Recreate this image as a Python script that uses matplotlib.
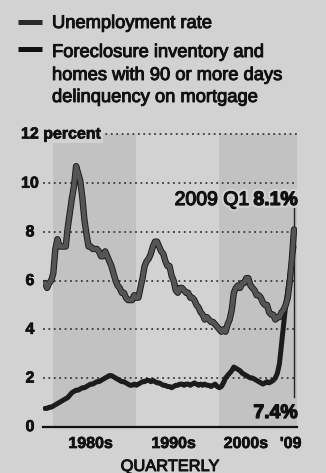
import matplotlib
matplotlib.use("Agg")
import matplotlib.pyplot as plt
import matplotlib.patheffects as pe
from matplotlib.lines import Line2D

# quarterly values, 1979 Q1 .. 2009 Q1
unemployment = [
    5.9, 5.7, 5.9, 6.0,   6.3, 7.3, 7.7, 7.4,   7.4, 7.4, 7.4, 8.2,
    8.8, 9.4, 9.9, 10.7,  10.4, 10.1, 9.4, 8.5,  7.9, 7.4, 7.4, 7.3,
    7.3, 7.3, 7.2, 7.0,   7.0, 7.2, 7.0, 6.8,   6.6, 6.3, 6.0, 5.8,
    5.7, 5.5, 5.5, 5.3,   5.2, 5.2, 5.2, 5.4,   5.3, 5.3, 5.7, 6.1,
    6.6, 6.8, 6.9, 7.1,   7.4, 7.6, 7.6, 7.4,   7.2, 7.1, 6.8, 6.6,
    6.6, 6.2, 6.0, 5.6,   5.5, 5.7, 5.7, 5.6,   5.5, 5.5, 5.3, 5.3,
    5.2, 5.0, 4.9, 4.7,   4.6, 4.4, 4.5, 4.4,   4.3, 4.3, 4.2, 4.1,
    4.0, 3.9, 4.0, 3.9,   4.2, 4.4, 4.8, 5.5,   5.7, 5.8, 5.7, 5.9,
    5.9, 6.1, 6.1, 5.8,   5.7, 5.6, 5.4, 5.4,   5.3, 5.1, 5.0, 5.0,
    4.7, 4.6, 4.6, 4.4,   4.5, 4.5, 4.7, 4.8,   5.0, 5.3, 6.0, 6.9,
    8.1,
]
foreclosure = [
    0.75, 0.75, 0.8, 0.8,   0.85, 0.9, 0.95, 1.0,   1.05, 1.1, 1.15, 1.2,
    1.3, 1.4, 1.45, 1.5,    1.5, 1.55, 1.6, 1.6,    1.65, 1.7, 1.75, 1.75,
    1.8, 1.85, 1.85, 1.9,   1.95, 2.0, 2.05, 2.1,   2.1, 2.05, 2.0, 1.95,
    1.9, 1.85, 1.85, 1.8,   1.75, 1.7, 1.7, 1.75,   1.7, 1.75, 1.8, 1.85,
    1.85, 1.9, 1.9, 1.85,   1.9, 1.85, 1.8, 1.8,    1.75, 1.7, 1.7, 1.65,
    1.65, 1.6, 1.65, 1.7,   1.7, 1.75, 1.75, 1.7,   1.75, 1.75, 1.7, 1.75,
    1.8, 1.75, 1.7, 1.75,   1.7, 1.75, 1.7, 1.7,    1.65, 1.7, 1.75, 1.65,
    1.6, 1.65, 1.8, 2.0,    2.1, 2.2, 2.3, 2.45,    2.4, 2.35, 2.3, 2.2,
    2.15, 2.1, 2.05, 2.0,   2.0, 1.95, 1.9, 1.85,   1.8, 1.75, 1.8, 1.85,
    1.8, 1.85, 1.9, 2.0,    2.2, 2.6, 3.4, 4.2,     5.0, 5.6, 6.2, 6.9,
    7.4,
]
quarters = [1979 + i / 4 for i in range(len(unemployment))]

y_ticks = [0, 2, 4, 6, 8, 10]
decade_labels = ["1980s", "1990s", "2000s", "'09"]
decade_label_x = [1984.5, 1994.5, 2003.2, 2008.6]
shaded = [(1980, 1990), (2000, 2009.36)]

BG = "#d2d2d2"
SHADE = "#c2c2c2"
INK = "#111111"
FONT = "Liberation Sans"
W, H = 326, 473

# heavier "printed" look for text, light halo for labels
ink = [pe.withStroke(linewidth=0.7, foreground=INK)]
ink_bold = [pe.withStroke(linewidth=0.5, foreground=INK)]

fig = plt.figure(figsize=(W / 100, H / 100), dpi=100, facecolor=BG)


def fx(px):
    return px / W


def fy(py):
    return 1 - py / H


ax = fig.add_axes([fx(43), fy(426.7), fx(297) - fx(43), fy(134.5) - fy(426.7)])
ax.set_facecolor(BG)
ax.set_xlim(1978.76, 2009.36)
ax.set_ylim(0, 12)
ax.axis("off")

for a, b in shaded:
    ax.axvspan(a, b, ymin=0, ymax=1, color=SHADE, lw=0, zorder=0)

# dotted gridlines
for v in [2, 4, 6, 8, 10]:
    ax.plot([1978.76, 2009.36], [v, v], ls=(0, (1, 2)), color="#3a3a3a",
            lw=1.3, zorder=1, clip_on=False)
ax.plot([1985.6, 2009.36], [12, 12], ls=(0, (1, 2)), color="#3a3a3a",
        lw=1.3, zorder=1, clip_on=False)
ax.plot([1978.76, 2009.36], [0, 0], color=INK, lw=1.6, zorder=2,
        clip_on=False)

# thin leader line at 2009 Q1
ax.plot([2009.0, 2009.0], [1.2, 9.0], color="#222222", lw=1.0, zorder=2)

ax.plot(quarters, foreclosure, color="#1c1c1c", lw=3.6, zorder=3,
        solid_capstyle="round", solid_joinstyle="round")
ax.plot(quarters, unemployment, color="#555555", lw=3.2, zorder=4,
        solid_capstyle="round", solid_joinstyle="round",
        path_effects=[pe.Stroke(linewidth=4.6, foreground="#1e1e1e"),
                      pe.Normal()])

# y tick labels
for v in y_ticks:
    ax.text(1978.76 - 13 / 8.3, v, str(v), ha="center", va="center",
            fontsize=11.5, fontweight="bold", family=FONT, color=INK,
            clip_on=False, path_effects=ink_bold)
fig.text(fx(21), fy(134), "12 percent", ha="left", va="center",
         fontsize=11.5, fontweight="bold", family=FONT, color=INK,
         bbox=dict(facecolor=BG, edgecolor="none", pad=1),
         path_effects=ink_bold)

# x labels
for lbl, xv in zip(decade_labels, decade_label_x):
    ax.text(xv, -(448 - 426.7) / (426.7 - 134.5), lbl,
            transform=ax.get_xaxis_transform(), ha="center",
            va="baseline", fontsize=11.5, fontweight="bold", family=FONT,
            color=INK, path_effects=ink_bold)
fig.text(fx(170), fy(471), "QUARTERLY", ha="center", va="baseline",
         fontsize=11.8, family=FONT, color=INK, path_effects=ink)

# annotations
t81 = fig.text(fx(298), fy(205), "8.1%", ha="right", va="baseline",
               fontsize=14, fontweight="bold", family=FONT, color=INK,
               path_effects=[pe.withStroke(linewidth=4, foreground=BG),
                             pe.withStroke(linewidth=0.9, foreground=INK)])
fig.canvas.draw()
w81 = t81.get_window_extent().width
fig.text(fx(298 - w81 - 4), fy(205), "2009 Q1", ha="right", va="baseline",
         fontsize=14, family=FONT, color=INK,
         path_effects=[pe.withStroke(linewidth=4, foreground=BG),
                       pe.withStroke(linewidth=0.9, foreground=INK)])
fig.text(fx(298), fy(418), "7.4%", ha="right", va="baseline",
         fontsize=14, fontweight="bold", family=FONT, color=INK,
         path_effects=[pe.withStroke(linewidth=0.9, foreground=INK)])

# legend
fig.add_artist(Line2D([fx(18), fx(42)], [fy(22), fy(22)], color="#2a2a2a",
                      lw=3.6, solid_capstyle="butt"))
fig.add_artist(Line2D([fx(18), fx(42)], [fy(49), fy(49)], color=INK,
                      lw=3.6, solid_capstyle="butt"))
legend_lines = [("Unemployment rate", 28),
                ("Foreclosure inventory and", 57),
                ("homes with 90 or more days", 80),
                ("delinquency on mortgage", 102)]
for txt, base in legend_lines:
    fig.text(fx(52), fy(base), txt, ha="left", va="baseline", fontsize=13.2,
             family=FONT, color=INK, path_effects=ink)

fig.savefig("out.png", dpi=100, facecolor=BG)
